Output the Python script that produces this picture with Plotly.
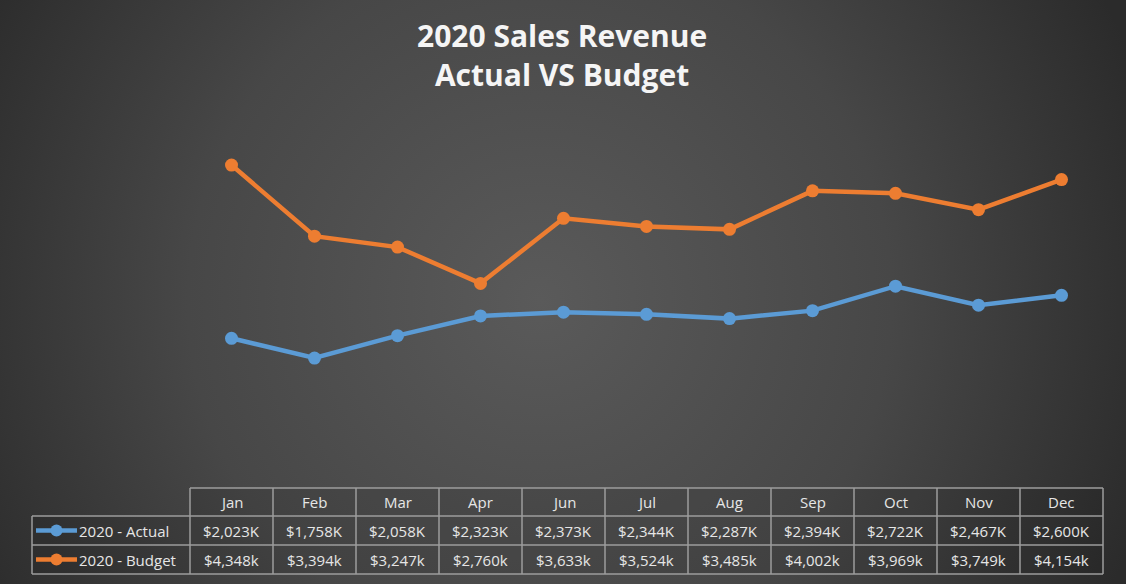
import base64
import plotly.graph_objects as go

months = ["Jan", "Feb", "Mar", "Apr", "Jun", "Jul", "Aug", "Sep", "Oct", "Nov", "Dec"]
actual = [2023, 1758, 2058, 2323, 2373, 2344, 2287, 2394, 2722, 2467, 2600]
budget = [4348, 3394, 3247, 2760, 3633, 3524, 3485, 4002, 3969, 3749, 4154]
series_names = ["2020 - Actual", "2020 - Budget"]
series_suffix = ["K", "k"]
colors = ["#5B9BD5", "#ED7D31"]
title_lines = ["2020 Sales Revenue", "Actual VS Budget"]

W, H = 1126, 584
def px(x): return x / W
def py(y): return 1 - y / H

svg = f'''<svg xmlns="http://www.w3.org/2000/svg" width="{W}" height="{H}" viewBox="0 0 {W} {H}" preserveAspectRatio="none">
<defs><radialGradient id="g" cx="540" cy="300" r="640" gradientUnits="userSpaceOnUse">
<stop offset="0" stop-color="#5a5a5a"/><stop offset="0.55" stop-color="#474747"/><stop offset="1" stop-color="#2b2b2b"/>
</radialGradient></defs><rect width="{W}" height="{H}" fill="url(#g)"/></svg>'''
bg_src = "data:image/svg+xml;base64," + base64.b64encode(svg.encode()).decode()

fig = go.Figure()
for name, vals, col in zip(series_names, [actual, budget], colors):
    fig.add_trace(go.Scatter(
        x=months, y=vals, name=name, mode="lines+markers",
        line=dict(color=col, width=4.5),
        marker=dict(color=col, size=13),
        showlegend=False, hoverinfo="x+y+name"))

# table geometry
x0, x1 = 190, 1103
xl = 32
rows_y = [488, 516, 545, 574]
ncol = len(months)
cw = (x1 - x0) / ncol
grid = "#9c9c9c"
shapes = []
annotations = []
shapes.append(dict(type="rect", xref="paper", yref="paper", x0=px(x0), x1=px(x1), y0=py(rows_y[3]), y1=py(rows_y[0]),
                   line=dict(width=0), fillcolor="rgba(0,0,0,0.08)", layer="below"))
shapes.append(dict(type="rect", xref="paper", yref="paper", x0=px(xl), x1=px(x0), y0=py(rows_y[3]), y1=py(rows_y[1]),
                   line=dict(width=0), fillcolor="rgba(0,0,0,0.08)", layer="below"))
shapes.append(dict(type="line", xref="paper", yref="paper", x0=px(x0), x1=px(x1), y0=py(rows_y[0]), y1=py(rows_y[0]),
                   line=dict(color=grid, width=1.5)))
for yy in rows_y[1:]:
    shapes.append(dict(type="line", xref="paper", yref="paper", x0=px(xl), x1=px(x1), y0=py(yy), y1=py(yy),
                       line=dict(color=grid, width=1.5)))
shapes.append(dict(type="line", xref="paper", yref="paper", x0=px(xl), x1=px(xl), y0=py(rows_y[1]), y1=py(rows_y[3]),
                   line=dict(color=grid, width=1.5)))
for i in range(ncol + 1):
    xx = x0 + i * cw
    shapes.append(dict(type="line", xref="paper", yref="paper", x0=px(xx), x1=px(xx), y0=py(rows_y[0]), y1=py(rows_y[3]),
                       line=dict(color=grid, width=1.5)))

tfont = dict(family="Open Sans, sans-serif", size=15, color="#e6e6e6")
for i, m in enumerate(months):
    annotations.append(dict(xref="paper", yref="paper", x=px(x0 + (i + 0.5) * cw), y=py((rows_y[0] + rows_y[1]) / 2),
                            text=m, showarrow=False, font=tfont, xanchor="center", yanchor="middle"))
for r, (vals, suf) in enumerate(zip([actual, budget], series_suffix)):
    yc = (rows_y[r + 1] + rows_y[r + 2]) / 2
    for i, v in enumerate(vals):
        annotations.append(dict(xref="paper", yref="paper", x=px(x0 + (i + 0.5) * cw), y=py(yc),
                                text=f"${v:,}{suf}", showarrow=False, font=tfont, xanchor="center", yanchor="middle"))
    shapes.append(dict(type="line", xref="paper", yref="paper", x0=px(36), x1=px(77), y0=py(yc), y1=py(yc),
                       line=dict(color=colors[r], width=4.5)))
    shapes.append(dict(type="circle", xref="paper", yref="paper", x0=px(56.5 - 6), x1=px(56.5 + 6),
                       y0=py(yc + 6), y1=py(yc - 6), fillcolor=colors[r], line=dict(width=0)))
    annotations.append(dict(xref="paper", yref="paper", x=px(77), y=py(yc), text=series_names[r], showarrow=False,
                            font=dict(family="Open Sans, sans-serif", size=15, color="#e6e6e6"),
                            xanchor="left", yanchor="middle"))

annotations.append(dict(xref="paper", yref="paper", x=px(562), y=py(55),
                        text="<br>".join(f"<b>{t}</b>" for t in title_lines), showarrow=False,
                        font=dict(family="Open Sans, sans-serif", size=30, color="#f5f5f5"),
                        xanchor="center", yanchor="middle", align="center"))

fig.update_layout(
    width=W, height=H, margin=dict(l=0, r=0, t=0, b=0),
    paper_bgcolor="#3c3c3c", plot_bgcolor="rgba(0,0,0,0)",
    xaxis=dict(domain=[px(x0), px(x1)], type="category", range=[-0.5, ncol - 0.5],
               showgrid=False, zeroline=False, showticklabels=False, showline=False),
    yaxis=dict(domain=[py(489), py(116.5)], range=[0, 5000], showgrid=False, zeroline=False,
               showticklabels=False, showline=False),
    images=[dict(source=bg_src, xref="paper", yref="paper", x=0, y=1, sizex=1, sizey=1,
                 sizing="stretch", xanchor="left", yanchor="top", layer="below")],
    shapes=shapes, annotations=annotations,
)
fig.write_html("out.html", config={"displayModeBar": False},
               post_script="document.body.style.margin='0';document.body.style.overflow='hidden';")
